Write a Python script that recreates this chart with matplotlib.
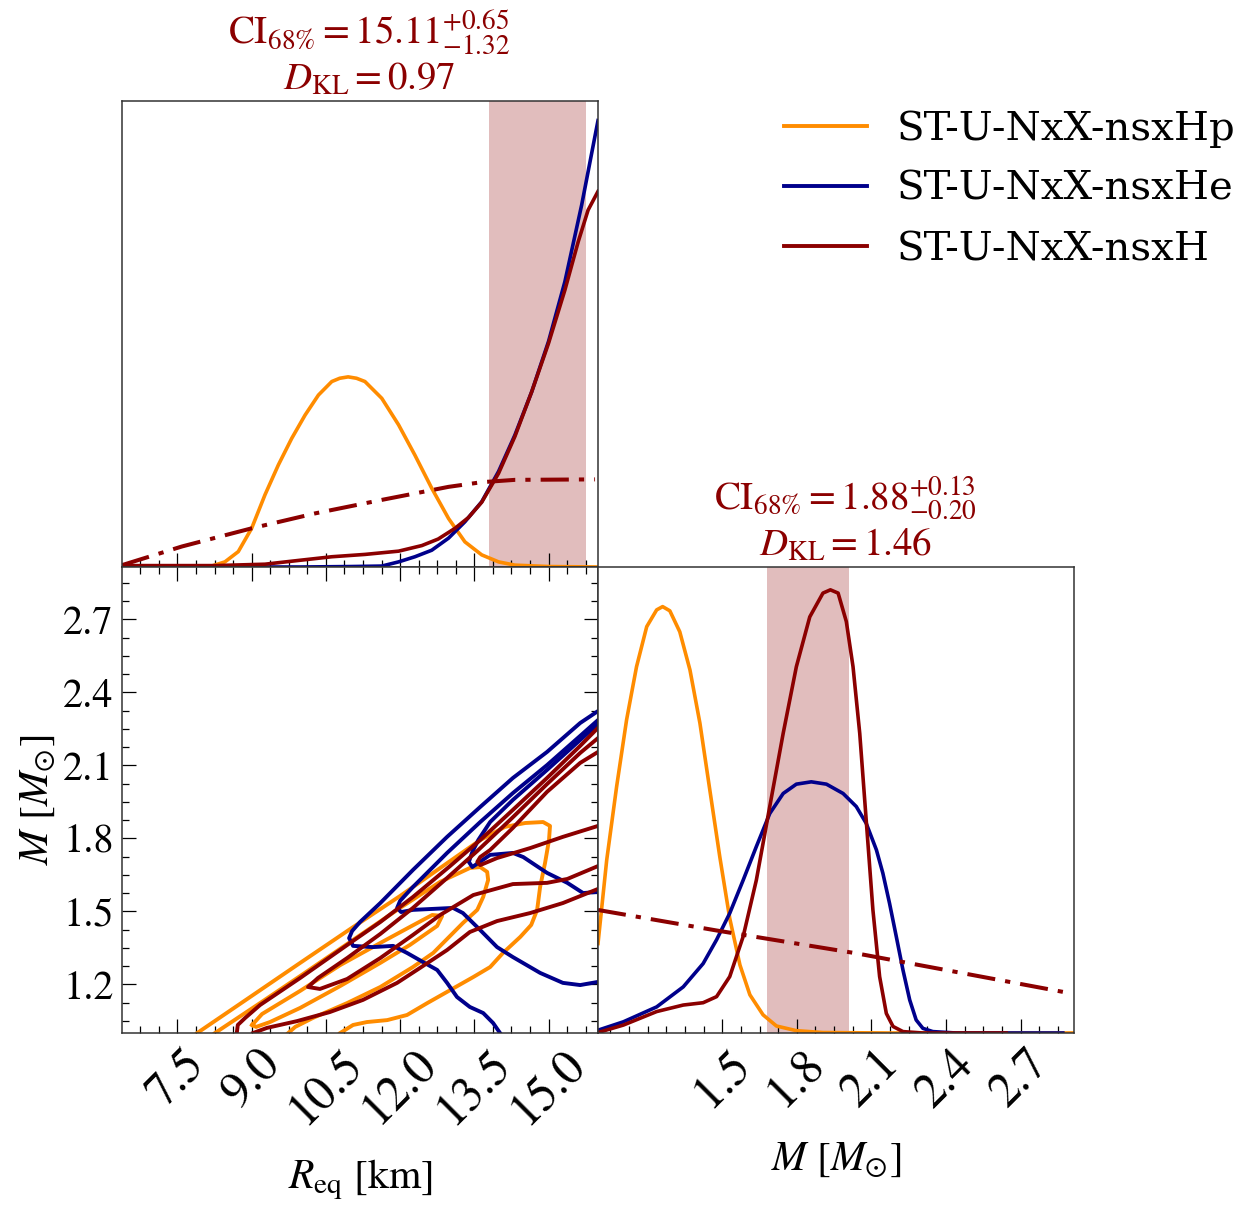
# ---------- IMPORT ------------
import numpy as np
import matplotlib
matplotlib.use("Agg")
import matplotlib.pyplot as plt
from matplotlib.ticker import MultipleLocator
from matplotlib.lines import Line2D
# ------------------------------


# ---------- CONFIG ------------
plt.rcParams["font.family"] = "STIXGeneral"
plt.rcParams["mathtext.fontset"] = "stix"

labels = ["ST-U-NxX-nsxHp", "ST-U-NxX-nsxHe", "ST-U-NxX-nsxH"]
colors = ["darkorange", "darkblue", "darkred"]
prior_color = "darkred"

r_range = (6.38, 16.0)
m_range = (1.0, 2.915)

# 68% interval (median, +err, -err) and KL divergence of the nsxH run
r_ci = (15.11, 0.65, 1.32)
m_ci = (1.88, 0.13, 0.20)
r_dkl = 0.97
m_dkl = 1.46

lw = 2.6
xtick_size = 35
ytick_size = 29
label_size = 30
title_size = 28
legend_size = 29
# ------------------------------


# ---------- DATA --------------
# marginal of R_eq (relative density)
r_hp = [6.38, 7.92, 8.19, 8.46, 8.73, 9.00, 9.27, 9.54, 9.81, 10.08, 10.35, 10.62, 10.78,
        10.95, 11.12, 11.29, 11.63, 11.97, 12.30, 12.64, 12.98, 13.31, 13.65, 13.99, 14.32,
        15.00, 16.00]
p_r_hp = [0.0, 0.0, 0.002, 0.011, 0.033, 0.083, 0.155, 0.219, 0.276, 0.326, 0.369, 0.398, 0.405,
          0.408, 0.405, 0.398, 0.362, 0.305, 0.240, 0.169, 0.104, 0.054, 0.026, 0.011, 0.004,
          0.001, 0.0]

r_he = [6.38, 10.00, 11.00, 11.63, 11.97, 12.30, 12.64, 12.98, 13.31, 13.65, 13.99, 14.32,
        14.66, 15.00, 15.33, 15.67, 16.00]
p_r_he = [0.0, 0.0, 0.001, 0.002, 0.011, 0.022, 0.036, 0.062, 0.097, 0.140, 0.205, 0.283,
          0.376, 0.484, 0.612, 0.777, 0.958]

r_h = [6.38, 8.26, 9.27, 9.94, 10.62, 11.29, 11.97, 12.44, 12.77, 13.11, 13.38, 13.65, 13.99,
       14.32, 14.66, 15.00, 15.33, 15.60, 15.80, 16.00]
p_r_h = [0.003, 0.003, 0.006, 0.014, 0.022, 0.027, 0.034, 0.046, 0.060, 0.083, 0.106, 0.139,
         0.201, 0.280, 0.376, 0.480, 0.594, 0.698, 0.766, 0.806]

r_prior = [6.38, 7.59, 9.00, 10.28, 11.63, 12.98, 13.65, 14.32, 15.94]
p_r_prior = [0.004, 0.044, 0.083, 0.115, 0.144, 0.172, 0.182, 0.187, 0.188]

# marginal of M (relative density)
m_hp = [1.0, 1.035, 1.075, 1.115, 1.155, 1.196, 1.236, 1.260, 1.289, 1.329, 1.370, 1.410,
        1.450, 1.490, 1.530, 1.571, 1.611, 1.664, 1.718, 1.798, 1.905, 2.173, 2.915]
p_m_hp = [0.192, 0.371, 0.529, 0.672, 0.786, 0.872, 0.908, 0.915, 0.906, 0.861, 0.779, 0.665,
          0.521, 0.378, 0.246, 0.146, 0.082, 0.039, 0.015, 0.005, 0.001, 0.0, 0.0]

m_he = [1.0, 1.102, 1.236, 1.343, 1.423, 1.477, 1.530, 1.584, 1.637, 1.691, 1.745, 1.798,
        1.858, 1.919, 1.986, 2.039, 2.079, 2.120, 2.146, 2.173, 2.200, 2.227, 2.254, 2.280,
        2.307, 2.347, 2.441, 2.870]
p_m_he = [0.006, 0.024, 0.056, 0.099, 0.149, 0.200, 0.257, 0.328, 0.400, 0.471, 0.514, 0.534,
          0.539, 0.534, 0.514, 0.486, 0.450, 0.393, 0.343, 0.278, 0.207, 0.135, 0.071, 0.028,
          0.010, 0.003, 0.0, 0.0]

m_h = [1.0, 1.102, 1.236, 1.343, 1.423, 1.477, 1.530, 1.584, 1.637, 1.691, 1.745, 1.798,
       1.852, 1.905, 1.935, 1.966, 1.999, 2.026, 2.053, 2.079, 2.106, 2.133, 2.160, 2.187,
       2.227, 2.307, 2.642]
p_m_h = [0.001, 0.017, 0.046, 0.060, 0.065, 0.078, 0.121, 0.207, 0.328, 0.486, 0.643, 0.786,
         0.893, 0.944, 0.951, 0.944, 0.883, 0.786, 0.643, 0.457, 0.264, 0.121, 0.042, 0.014,
         0.003, 0.0, 0.0]

m_prior = [1.0, 1.477, 2.039, 2.903]
p_m_prior = [0.264, 0.220, 0.171, 0.085]

# credible-region contours in the (R_eq, M) plane, (R, M) pairs
hp_contours = [
    [(7.90, 1.000), (8.97, 1.148), (9.98, 1.288), (10.99, 1.427), (12.00, 1.563), (12.81, 1.678),
     (13.62, 1.793), (14.12, 1.847), (14.53, 1.863), (14.89, 1.867), (15.03, 1.851), (15.01, 1.793),
     (14.93, 1.699), (14.83, 1.600), (14.77, 1.506), (14.65, 1.444), (14.43, 1.395), (14.08, 1.329),
     (13.82, 1.271), (13.48, 1.230), (12.95, 1.169), (12.55, 1.123), (12.14, 1.074), (11.74, 1.053),
     (11.33, 1.045), (11.05, 1.033), (10.79, 1.000)],
    [(8.26, 1.000), (9.17, 1.123), (9.98, 1.234), (10.99, 1.374), (12.00, 1.514), (12.81, 1.621),
     (13.41, 1.678), (13.62, 1.682), (13.76, 1.662), (13.78, 1.629), (13.68, 1.559), (13.56, 1.506),
     (13.27, 1.452), (13.07, 1.411), (12.67, 1.329), (12.26, 1.271), (11.60, 1.189), (10.93, 1.123),
     (10.24, 1.062), (9.88, 1.025), (9.74, 1.000)],
    [(9.01, 1.033), (9.21, 1.078), (9.98, 1.173), (10.79, 1.279), (11.60, 1.370), (12.20, 1.436),
     (12.65, 1.485), (12.85, 1.481), (12.75, 1.440), (12.20, 1.362), (11.60, 1.288), (10.79, 1.193),
     (9.98, 1.103), (9.37, 1.045), (9.09, 1.025), (9.01, 1.033)],
]

he_contours = [
    [(16.00, 2.323), (15.64, 2.274), (14.97, 2.155), (14.28, 2.048), (13.62, 1.929), (12.95, 1.806),
     (12.26, 1.670), (11.60, 1.534), (11.19, 1.456), (11.03, 1.419), (10.97, 1.390), (11.05, 1.358),
     (11.45, 1.353), (11.86, 1.358), (12.14, 1.329), (12.46, 1.292), (12.75, 1.259), (12.95, 1.206),
     (13.15, 1.148), (13.41, 1.107), (13.68, 1.082), (13.88, 1.041), (14.02, 1.000)],
    [(16.00, 2.286), (15.64, 2.221), (14.97, 2.101), (14.28, 1.986), (13.62, 1.867), (12.95, 1.740),
     (12.26, 1.600), (12.00, 1.543), (11.94, 1.514), (12.02, 1.497), (12.26, 1.506), (13.07, 1.514),
     (13.27, 1.493), (13.62, 1.423), (13.96, 1.353), (14.28, 1.312), (14.83, 1.247), (15.29, 1.206),
     (15.64, 1.197), (16.00, 1.210)],
    [(16.00, 2.270), (15.64, 2.204), (14.97, 2.081), (14.28, 1.958), (13.82, 1.867), (13.58, 1.793),
     (13.46, 1.744), (13.39, 1.703), (13.46, 1.682), (13.82, 1.732), (14.28, 1.740), (14.49, 1.723),
     (14.97, 1.658), (15.38, 1.617), (15.70, 1.575), (16.00, 1.580)],
]

h_contours = [
    [(8.70, 1.000), (8.72, 1.033), (8.87, 1.062), (9.17, 1.115), (9.98, 1.226), (10.99, 1.370),
     (11.60, 1.456), (12.26, 1.559), (13.01, 1.686), (13.62, 1.793), (14.28, 1.917), (14.97, 2.048),
     (15.64, 2.180), (16.00, 2.254)],
    [(9.03, 1.000), (9.31, 1.021), (9.92, 1.049), (10.58, 1.086), (11.25, 1.136), (11.94, 1.206),
     (12.40, 1.267), (12.95, 1.341), (13.41, 1.415), (13.96, 1.460), (14.63, 1.493), (15.29, 1.534),
     (16.00, 1.592)],
    [(16.00, 2.212), (15.64, 2.151), (14.97, 2.023), (14.22, 1.875), (13.56, 1.748), (12.95, 1.637),
     (12.26, 1.514), (11.60, 1.407), (10.93, 1.308), (10.34, 1.226), (10.14, 1.189), (10.38, 1.181),
     (10.93, 1.222), (11.60, 1.308), (12.26, 1.403), (12.81, 1.485), (13.48, 1.567), (14.28, 1.612),
     (14.97, 1.617), (15.38, 1.633), (16.00, 1.686)],
    [(16.00, 2.155), (15.64, 2.110), (14.97, 1.991), (14.28, 1.843), (13.82, 1.752), (13.62, 1.723),
     (13.56, 1.703), (13.62, 1.690), (13.96, 1.719), (14.63, 1.760), (15.29, 1.806), (16.00, 1.851)],
]
# ------------------------------


def ci_title(ci, dkl):
    med, up, lo = ci
    return ("$\\mathrm{CI}_{68\\%}=" + f"{med:.2f}^{{+{up:.2f}}}_{{-{lo:.2f}}}$\n"
            + "$D_{\\mathrm{KL}}=" + f"{dkl:.2f}$")


# ---------- FIGURE ------------
W, H = 1253, 1205
fig = plt.figure(figsize=(W / 100, H / 100), dpi=100)


def box(x0, y0, x1, y1):
    return [x0 / W, 1 - y1 / H, (x1 - x0) / W, (y1 - y0) / H]


ax_r = fig.add_axes(box(122, 101, 598, 567))
ax_2d = fig.add_axes(box(122, 567, 598, 1033))
ax_m = fig.add_axes(box(598, 567, 1074, 1033))

for ax in (ax_r, ax_2d, ax_m):
    for sp in ax.spines.values():
        sp.set_color("#333333")
        sp.set_linewidth(1.1)
    ax.tick_params(which="both", direction="in", width=0.9, pad=6)
    ax.tick_params(axis="x", labelsize=xtick_size)
    ax.tick_params(axis="y", labelsize=ytick_size)
    ax.tick_params(which="major", length=10)
    ax.tick_params(which="minor", length=5)

# R_eq marginal
ax_r.axvspan(r_ci[0] - r_ci[2], r_ci[0] + r_ci[1], color=prior_color, alpha=0.26, lw=0)
ax_r.plot(r_hp, p_r_hp, color=colors[0], lw=lw)
ax_r.plot(r_he, p_r_he, color=colors[1], lw=lw)
ax_r.plot(r_h, p_r_h, color=colors[2], lw=lw)
ax_r.plot(r_prior, p_r_prior, color=prior_color, lw=lw + 0.3, dashes=(7, 2.5, 1.3, 2.5))
ax_r.set_xlim(*r_range)
ax_r.set_ylim(0, 1)
ax_r.set_yticks([])
ax_r.xaxis.set_major_locator(MultipleLocator(1.5))
ax_r.xaxis.set_minor_locator(MultipleLocator(0.375))
ax_r.tick_params(axis="x", which="both", labelbottom=False)
ax_r.set_title(ci_title(r_ci, r_dkl), color=prior_color, fontsize=title_size, pad=8,
               linespacing=1.2, x=0.519)

# M marginal
ax_m.axvspan(m_ci[0] - m_ci[2], m_ci[0] + m_ci[1], color=prior_color, alpha=0.26, lw=0)
ax_m.plot(m_hp, p_m_hp, color=colors[0], lw=lw)
ax_m.plot(m_he, p_m_he, color=colors[1], lw=lw)
ax_m.plot(m_h, p_m_h, color=colors[2], lw=lw)
ax_m.plot(m_prior, p_m_prior, color=prior_color, lw=lw + 0.3, dashes=(7, 2.5, 1.3, 2.5))
ax_m.set_xlim(*m_range)
ax_m.set_ylim(0, 1)
ax_m.set_yticks([])
ax_m.set_xticks([1.5, 1.8, 2.1, 2.4, 2.7])
ax_m.xaxis.set_minor_locator(MultipleLocator(0.075))
ax_m.set_xticklabels(["1.5", "1.8", "2.1", "2.4", "2.7"], rotation=45)
ax_m.set_title(ci_title(m_ci, m_dkl), color=prior_color, fontsize=title_size, pad=8,
               linespacing=1.2, x=0.519)
ax_m.set_xlabel(r"$M\ [M_{\odot}]$", fontsize=label_size)
ax_m.xaxis.set_label_coords(0.5, -0.23)

# joint R_eq - M contours
for group, c in zip((hp_contours, he_contours, h_contours), colors):
    for line in group:
        pts = np.array(line)
        ax_2d.plot(pts[:, 0], pts[:, 1], color=c, lw=lw + 0.2)
ax_2d.set_xlim(*r_range)
ax_2d.set_ylim(*m_range)
ax_2d.xaxis.set_major_locator(MultipleLocator(1.5))
ax_2d.xaxis.set_minor_locator(MultipleLocator(0.375))
ax_2d.yaxis.set_major_locator(MultipleLocator(0.3))
ax_2d.yaxis.set_minor_locator(MultipleLocator(0.075))
ax_2d.tick_params(which="both", top=True, right=True)
for t in ax_2d.get_xticklabels():
    t.set_rotation(45)
ax_2d.set_xlabel(r"$R_{\mathrm{eq}}$ [km]", fontsize=label_size)
ax_2d.xaxis.set_label_coords(0.5, -0.268)
ax_2d.set_ylabel(r"$M\ [M_{\odot}]$", fontsize=label_size)
ax_2d.yaxis.set_label_coords(-0.134, 0.5)

handles = [Line2D([0], [0], color=c, lw=lw + 0.2) for c in colors]
fig.legend(handles, labels, loc="upper left", bbox_to_anchor=(764 / W, 1 - 90 / H),
           frameon=False, borderpad=0, prop={"family": "DejaVu Serif", "size": legend_size},
           handlelength=2.05, handletextpad=0.75, labelspacing=0.58)

fig.savefig("out.png", dpi=100)
